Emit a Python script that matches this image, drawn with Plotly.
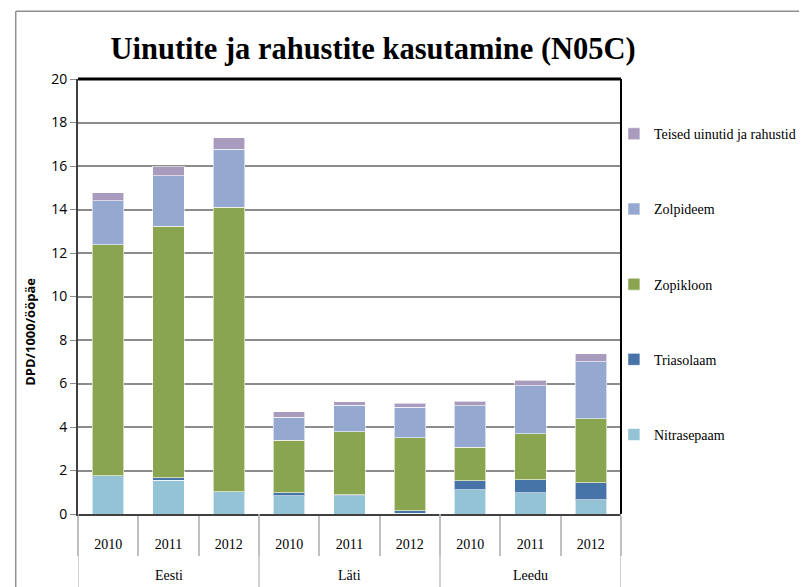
import plotly.graph_objects as go

groups = ["Eesti", "Läti", "Leedu"]
years = ["2010", "2011", "2012", "2010", "2011", "2012", "2010", "2011", "2012"]

nitrasepaam = [1.76, 1.56, 1.03, 0.84, 0.84, 0.03, 1.12, 0.98, 0.66]
triasolaam = [0.00, 0.11, 0.00, 0.13, 0.05, 0.12, 0.41, 0.60, 0.78]
zopikloon = [10.61, 11.57, 13.08, 2.43, 2.90, 3.36, 1.55, 2.11, 2.93]
zolpideem = [2.04, 2.32, 2.67, 1.06, 1.22, 1.39, 1.90, 2.21, 2.62]
teised = [0.36, 0.41, 0.52, 0.23, 0.14, 0.20, 0.21, 0.26, 0.37]

series = [
    ("Nitrasepaam", nitrasepaam, "#93C3D5"),
    ("Triasolaam", triasolaam, "#4673A8"),
    ("Zopikloon", zopikloon, "#8AA54F"),
    ("Zolpideem", zolpideem, "#95A9D0"),
    ("Teised uinutid ja rahustid", teised, "#A99BBE"),
]

idx = list(range(len(years)))
per_group = len(years) // len(groups)

fig = go.Figure()
for rank, (name, vals, col) in enumerate(series):
    fig.add_trace(go.Bar(
        x=idx, y=vals, name=name,
        marker=dict(color=col, line=dict(color="rgba(255,255,255,0.6)", width=1)),
        legendgroup=name, legendrank=len(series) - rank,
    ))

serif = "Liberation Serif"

# The page body adds an 8px offset, so the figure is 8px smaller and margins shifted.
fig.update_layout(
    barmode="stack",
    bargap=0.48,
    width=799, height=579,
    margin=dict(l=70, r=186, t=71, b=73, autoexpand=False),
    plot_bgcolor="white", paper_bgcolor="white",
    title=dict(text="<b>Uinutite ja rahustite kasutamine (N05C)</b>",
               font=dict(family=serif, size=30.5, color="black"),
               x=0.457, xanchor="center", y=0.931, yanchor="middle"),
    legend=dict(x=0.987, y=0.91, xanchor="left", yanchor="top",
                traceorder="grouped", tracegroupgap=54,
                font=dict(family=serif, size=14, color="black"),
                itemwidth=30, bgcolor="rgba(0,0,0,0)"),
    showlegend=True,
)

fig.update_yaxes(
    range=[0, 20], dtick=2,
    showgrid=True, gridcolor="#8C8C8C", gridwidth=1.5,
    ticks="outside", ticklen=6, tickcolor="#8C8C8C",
    tickfont=dict(family="Open Sans", size=14, color="black"),
    showline=True, linecolor="#404040", linewidth=2, mirror=False,
    zeroline=False,
)
fig.update_xaxes(
    range=[-0.5, len(years) - 0.5],
    tickvals=idx, ticktext=years, ticks="", ticklabelstandoff=16,
    tickfont=dict(family=serif, size=14, color="black"),
    minor=dict(tickvals=[i - 0.5 for i in range(len(years) + 1)], ticks="outside",
               ticklen=40, tickcolor="#C0C0C0", tickwidth=1.5, showgrid=False),
    showline=True, linecolor="#404040", linewidth=2,
    showgrid=False, zeroline=False,
)

# group dividers and labels
for g in range(len(groups) + 1):
    xb = g * per_group - 0.5
    fig.add_shape(type="line", xref="x", yref="paper", x0=xb, x1=xb, y0=0, y1=-0.25,
                  line=dict(color="#C0C0C0", width=1.5))
for g, gname in enumerate(groups):
    fig.add_annotation(text=gname, xref="x", yref="paper",
                       x=g * per_group + (per_group - 1) / 2, y=-0.164, yanchor="bottom",
                       showarrow=False, font=dict(family=serif, size=14, color="black"))

# plot frame top / right
fig.add_shape(type="line", xref="paper", yref="paper", x0=0, x1=1, y0=1, y1=1,
              line=dict(color="black", width=3))
fig.add_shape(type="line", xref="paper", yref="paper", x0=1, x1=1, y0=0, y1=1,
              line=dict(color="black", width=2))
# outer chart frame
fig.add_shape(type="line", xref="paper", yref="paper", x0=-0.1147, x1=1.4, y0=1.156, y1=1.156,
              line=dict(color="#909090", width=1.5))
fig.add_shape(type="line", xref="paper", yref="paper", x0=-0.1147, x1=-0.1147, y0=-0.2, y1=1.156,
              line=dict(color="#909090", width=1.5))

fig.add_annotation(text="<b>DPD/1000/ööpäe</b>", textangle=-90,
                   xref="paper", yref="paper", x=-0.0875, y=0.42, xanchor="center",
                   showarrow=False, font=dict(family="Open Sans", size=13, color="black"))

fig.write_html("out.html")
